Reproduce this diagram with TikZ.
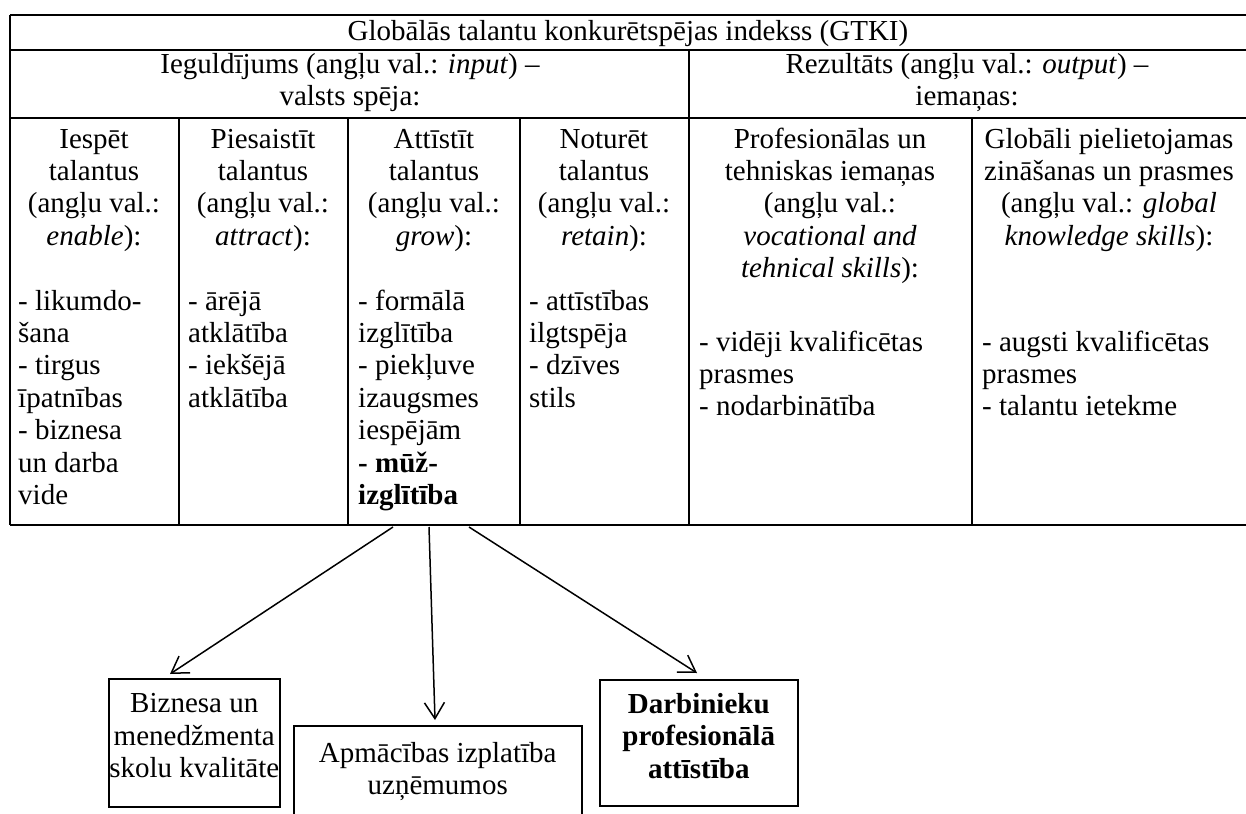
\documentclass[tikz,border=0pt]{standalone}
\usepackage{fontspec}
\setmainfont{Liberation Serif}
\usetikzlibrary{arrows.meta}
\newcommand\tfs{\fontsize{29}{32.4}\selectfont}
\newcommand\lowstrut{\rule[-14pt]{0pt}{14pt}}
\begin{document}
\begin{tikzpicture}[x=1pt,y=-1pt,
  tline/.style={line width=2pt},
  ctext/.style={inner sep=0pt,anchor=base,align=center,font=\tfs},
  ltext/.style={inner sep=0pt,anchor=base west,align=left,font=\tfs},
  boxnode/.style={draw,line width=1.5pt,inner sep=0pt,align=center,font=\tfs,anchor=north west},
  conn/.style={line width=1.5pt,-{Straight Barb[length=16pt,width=20pt,line width=1.5pt]}}]
\useasboundingbox (0,0) rectangle (1246,813);
\clip (0,0) rectangle (1246,813);
% table lines
\draw[tline] (10,15) -- (1250,15);
\draw[tline] (10,50) -- (1250,50);
\draw[tline] (10,118) -- (1250,118);
\draw[tline] (10,525) -- (1250,525);
\draw[tline] (10,15) -- (10,525);
\draw[tline] (689,50) -- (689,525);
\draw[tline] (179,118) -- (179,525);
\draw[tline] (348,118) -- (348,525);
\draw[tline] (520,118) -- (520,525);
\draw[tline] (972,118) -- (972,525);
% title and group headers (y = baseline of the last line)
\node[ctext] (title) at (628,41) {Globālās talantu konkurētspējas indekss (GTKI)};
\node[ctext] (inp) at (350,106) {Ieguldījums (angļu val.: \textit{input}) –\\valsts spēja:};
\node[ctext] (outp) at (967,106) {Rezultāts (angļu val.: \textit{output}) –\\iemaņas:};
% column headers
\node[ctext] (h1) at (94,245.2) {Iespēt\\talantus\\(angļu val.:\\\textit{enable}):};
\node[ctext] (h2) at (263,245.2) {Piesaistīt\\talantus\\(angļu val.:\\\textit{attract}):};
\node[ctext] (h3) at (434,245.2) {Attīstīt\\talantus\\(angļu val.:\\\textit{grow}):};
\node[ctext] (h4) at (604,245.2) {Noturēt\\talantus\\(angļu val.:\\\textit{retain}):};
\node[ctext] (h5) at (830,277.6) {Profesionālas un\\tehniskas iemaņas\\(angļu val.:\\\textit{vocational and}\\\textit{tehnical skills}):};
\node[ctext] (h6) at (1109,245.2) {Globāli pielietojamas\\zināšanas un prasmes\\(angļu val.: \textit{global}\\\textit{knowledge skills}):};
% column items
\node[ltext] (i1) at (18,504.4) {- likumdo-\\šana\\- tirgus\\īpatnības\\- biznesa\\un darba\\vide};
\node[ltext] (i2) at (188,407.2) {- ārējā\\atklātība\\- iekšējā\\atklātība};
\node[ltext] (i3) at (358,504.4) {- formālā\\izglītība\\- piekļuve\\izaugsmes\\iespējām\\\textbf{- mūž-}\\\textbf{izglītība}};
\node[ltext] (i4) at (529,407.2) {- attīstības\\ilgtspēja\\- dzīves\\stils};
\node[ltext] (i5) at (699,415.8) {- vidēji kvalificētas\\prasmes\\- nodarbinātība};
\node[ltext] (i6) at (982,415.8) {- augsti kvalificētas\\prasmes\\- talantu ietekme};
% boxes
\node[boxnode,minimum width=171pt,minimum height=128pt] (b1) at (108,678) {Biznesa un\\menedžmenta\\skolu kvalitāte\lowstrut};
\node[boxnode,minimum width=288pt,minimum height=92pt] (b2) at (293,725) {Apmācības izplatība\\uzņēmumos};
\node[boxnode,minimum width=198pt,minimum height=126pt] (b3) at (599,679) {\textbf{Darbinieku}\\\textbf{profesionālā}\\\textbf{attīstība}\lowstrut};
% connector ends
\coordinate (s1) at (393,527);
\coordinate (s2) at (429,527);
\coordinate (s3) at (469,527);
\coordinate (t1) at (170,674);
\coordinate (t2) at (435,720);
\coordinate (t3) at (697,673);
\draw[conn] (s1) -- (t1);
\draw[conn] (s2) -- (t2);
\draw[conn] (s3) -- (t3);
\end{tikzpicture}
\end{document}
